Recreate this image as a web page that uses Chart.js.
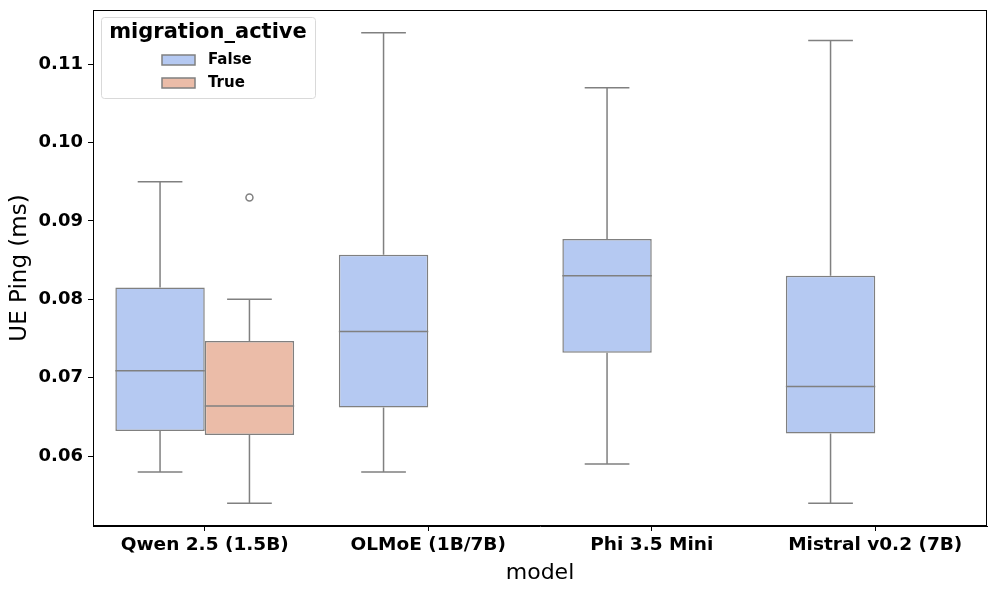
<!DOCTYPE html>
<html>
<head>
<meta charset="utf-8">
<script src="https://cdn.jsdelivr.net/npm/chart.js@4/dist/chart.umd.min.js"></script>
<style>
  html, body { margin: 0; padding: 0; background: #fff; }
  #wrap { width: 996px; height: 593px; position: relative; }
</style>
</head>
<body>
<div id="wrap"><canvas id="chart"></canvas></div>
<script>
// boxplot stats
const models = ['Qwen 2.5 (1.5B)', 'OLMoE (1B/7B)', 'Phi 3.5 Mini', 'Mistral v0.2 (7B)'];
const yTicks = [0.06, 0.07, 0.08, 0.09, 0.10, 0.11];

const falseMin = [0.058, 0.058, 0.059, 0.054];
const falseQ1 = [0.0632, 0.0662, 0.0732, 0.0629];
const falseMed = [0.0709, 0.0759, 0.0830, 0.0689];
const falseQ3 = [0.0815, 0.0857, 0.0877, 0.0830];
const falseMax = [0.095, 0.114, 0.107, 0.113];
const falseOut = [[], [], [], []];

const trueMin = [0.054, null, null, null];
const trueQ1 = [0.0627, null, null, null];
const trueMed = [0.0664, null, null, null];
const trueQ3 = [0.0747, null, null, null];
const trueMax = [0.080, null, null, null];
const trueOut = [[0.093], [], [], []];

const LINE = '#808080';
const BLUE = '#b5c9f2';
const SALMON = '#ebbca8';

const stats = [
  { min: falseMin, q1: falseQ1, med: falseMed, q3: falseQ3, max: falseMax, out: falseOut },
  { min: trueMin, q1: trueQ1, med: trueMed, q3: trueQ3, max: trueMax, out: trueOut }
];

const boxExtras = {
  id: 'boxExtras',
  afterDatasetsDraw(chart) {
    const ctx = chart.ctx, y = chart.scales.y;
    ctx.save();
    ctx.strokeStyle = LINE;
    ctx.lineWidth = 1.5;
    stats.forEach((s, di) => {
      const meta = chart.getDatasetMeta(di);
      meta.data.forEach((bar, i) => {
        if (s.med[i] == null) return;
        const half = bar.width / 2, cx = bar.x;
        const py = v => y.getPixelForValue(v);
        ctx.beginPath();
        // whiskers
        ctx.moveTo(cx, py(s.q3[i])); ctx.lineTo(cx, py(s.max[i]));
        ctx.moveTo(cx, py(s.q1[i])); ctx.lineTo(cx, py(s.min[i]));
        // caps
        ctx.moveTo(cx - half / 2, py(s.max[i])); ctx.lineTo(cx + half / 2, py(s.max[i]));
        ctx.moveTo(cx - half / 2, py(s.min[i])); ctx.lineTo(cx + half / 2, py(s.min[i]));
        // median
        ctx.moveTo(cx - half, py(s.med[i])); ctx.lineTo(cx + half, py(s.med[i]));
        ctx.stroke();
        s.out[i].forEach(v => {
          ctx.beginPath();
          ctx.arc(cx, py(v), 3.5, 0, Math.PI * 2);
          ctx.stroke();
        });
      });
    });
    ctx.restore();
  },
  afterDraw(chart) {
    const ctx = chart.ctx, a = chart.chartArea;
    ctx.save();
    // axes frame
    ctx.strokeStyle = '#000';
    ctx.lineWidth = 1;
    ctx.strokeRect(a.left + 0.5, a.top + 0.5, a.right - a.left - 1, a.bottom - a.top - 1);
    // legend
    const lx = 101, ly = 17, lw = 214, lh = 81;
    ctx.fillStyle = 'rgba(255,255,255,0.8)';
    ctx.strokeStyle = '#d9d9d9';
    ctx.beginPath();
    ctx.roundRect(lx + 0.5, ly + 0.5, lw, lh, 3);
    ctx.fill(); ctx.stroke();
    ctx.fillStyle = '#000';
    ctx.textBaseline = 'middle';
    ctx.textAlign = 'center';
    ctx.font = "bold 21px 'DejaVu Sans'";
    ctx.fillText('migration_active', lx + lw / 2, ly + 16);
    ctx.textAlign = 'left';
    ctx.font = "bold 15px 'DejaVu Sans'";
    [['False', BLUE, 60], ['True', SALMON, 83]].forEach(([t, c, cy]) => {
      ctx.fillStyle = c;
      ctx.strokeStyle = LINE;
      ctx.lineWidth = 1.5;
      ctx.fillRect(162, cy - 5, 33, 10);
      ctx.strokeRect(162, cy - 5, 33, 10);
      ctx.fillStyle = '#000';
      ctx.fillText(t, 208, cy);
    });
    ctx.restore();
  }
};

new Chart(document.getElementById('chart'), {
  type: 'bar',
  data: {
    labels: models,
    datasets: [
      { label: 'False', data: models.map((_, i) => [falseQ1[i], falseQ3[i]]), backgroundColor: BLUE, borderColor: LINE, borderWidth: 1.5, borderSkipped: false },
      { label: 'True', data: models.map((_, i) => trueQ1[i] == null ? null : [trueQ1[i], trueQ3[i]]), backgroundColor: SALMON, borderColor: LINE, borderWidth: 1.5, borderSkipped: false }
    ]
  },
  options: {
    responsive: true,
    maintainAspectRatio: false,
    animation: false,
    layout: { padding: { top: 10, right: 9, left: 0, bottom: 0 } },
    datasets: { bar: { categoryPercentage: 0.8, barPercentage: 1.0 } },
    plugins: { legend: { display: false }, tooltip: { enabled: false } },
    scales: {
      x: {
        grid: { offset: false, drawOnChartArea: false, drawTicks: true, tickLength: 5, color: '#000' },
        border: { display: true, color: '#000' },
        ticks: { color: '#000', font: { family: 'DejaVu Sans', size: 18.5, weight: 'bold' }, padding: 3, maxRotation: 0 },
        title: { display: true, text: 'model', color: '#000', font: { family: 'DejaVu Sans', size: 22 }, padding: { top: 0, bottom: 7 } },
        afterFit(s) { s.height = 67; s.paddingLeft = 0; s.paddingRight = 0; }
      },
      y: {
        min: 0.0511,
        max: 0.1169,
        afterBuildTicks(s) { s.ticks = yTicks.map(v => ({ value: v })); },
        grid: { drawOnChartArea: false, drawTicks: true, tickLength: 5, color: '#000' },
        border: { display: true, color: '#000' },
        ticks: { color: '#000', font: { family: 'DejaVu Sans', size: 18, weight: 'bold' }, padding: 5, callback: v => v.toFixed(2) },
        title: { display: true, text: 'UE Ping (ms)', color: '#000', font: { family: 'DejaVu Sans', size: 23 }, padding: { top: 6, bottom: 0 } },
        afterFit(s) { s.width = 93; s.paddingTop = 0; s.paddingBottom = 0; }
      }
    }
  },
  plugins: [boxExtras]
});
</script>
</body>
</html>
